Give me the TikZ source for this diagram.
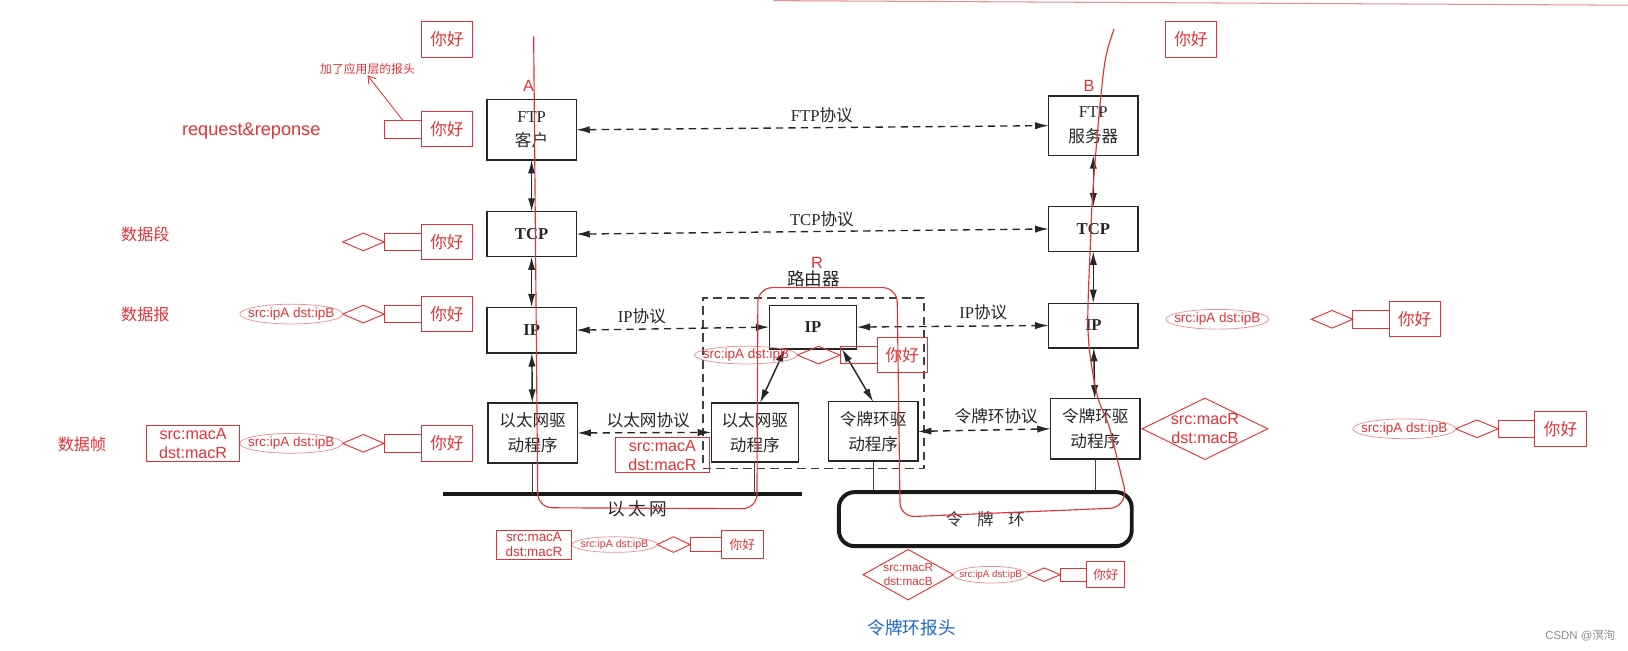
\documentclass[tikz,border=0pt]{standalone}
\usepackage{fontspec}
\setmainfont{Liberation Serif}
\setsansfont{Liberation Sans}
\newfontfamily\cjk{Noto Sans CJK SC}
\usetikzlibrary{arrows.meta,positioning,shapes.geometric}
\definecolor{annot}{RGB}{226,50,54}
\definecolor{hdrblue}{RGB}{28,104,200}
\newcommand{\fsz}[2]{\fontsize{#1}{#2}\selectfont}

\begin{document}
\begin{tikzpicture}[
  x=1pt,y=-1pt,
  >={Latex[length=13pt,width=7pt]},
  layer/.style={draw=black!85,line width=1.3pt,minimum width=86pt,align=center,inner sep=2pt,outer sep=0pt,text=black!85,font=\cjk\fsz{16}{24}},
  proto/.style={inner sep=1pt,text=black!85,font=\cjk\fsz{16}{16}},
  stack/.style={<->,line width=1.4pt,black!85},
  peer/.style={<->,line width=1.3pt,black!85,dash pattern=on 7pt off 5pt},
  stub/.style={line width=1pt,black!75},
  hello/.style={draw=annot,line width=0.9pt,minimum width=49pt,minimum height=34pt,inner sep=0pt,outer sep=0pt,text=annot,font=\cjk\fsz{16}{16}},
  hdr/.style={draw=annot,line width=0.9pt,minimum width=36pt,minimum height=17pt,inner sep=0pt,outer sep=0pt},
  tcphdr/.style={diamond,draw=annot,line width=0.9pt,minimum width=40pt,minimum height=17pt,inner sep=0pt,outer sep=0pt},
  iphdr/.style={ellipse,draw=annot!55,line width=0.7pt,minimum width=99pt,minimum height=19pt,inner sep=0pt,outer sep=0pt,
    label={[text=annot,inner sep=0pt,font=\sffamily\fsz{#1}{#1}]center:{src:ipA dst:ipB}}},
  iphdr/.default=13,
  machdr/.style={draw=annot,line width=0.9pt,minimum width=90pt,minimum height=34pt,inner sep=0pt,outer sep=0pt,align=center,text=annot,font=\sffamily\fsz{15.5}{18}},
  macring/.style 2 args={diamond,draw=annot,line width=0.9pt,inner sep=0pt,outer sep=0pt,
    label={[text=annot,align=center,inner sep=0pt,font=\sffamily\fsz{#1}{#2}]center:{src:macR\\dst:macB}}},
  tag/.style={inner sep=1pt,text=annot,font=\cjk\fsz{15.5}{15.5}},
  letter/.style={inner sep=0pt,text=annot,font=\sffamily\fsz{15.7}{15.7}},
  trace/.style={annot,line width=1.1pt}
]
\useasboundingbox (0,0) rectangle (1568,627);

% host A
\node[layer,minimum height=58pt] (ftpA) at (512,125) {{\rmfamily FTP}\\客户};
\node[layer,minimum height=43pt] (tcpA) at (512,225.5) {\rmfamily\bfseries TCP};
\node[layer,minimum height=44pt] (ipA) at (512,318) {\rmfamily\bfseries IP};
\node[layer,minimum height=58pt] (ethA) at (513,417) {以太网驱\\动程序};

% router
\node[draw=black!75,line width=1.2pt,dash pattern=on 8pt off 5pt,minimum width=213pt,minimum height=164pt] (router) at (783.5,369) {};
\node[proto,font=\cjk\fsz{17}{17},above=9pt of router] (rlabel) {路由器};
\node[layer,minimum width=84pt,minimum height=42pt] (ipR) at (783,315) {\rmfamily\bfseries IP};
\node[layer,minimum width=84pt,minimum height=57pt] (ethR) at (727,416.5) {以太网驱\\动程序};
\node[layer,minimum height=57pt] (tokR) at (841,415.5) {令牌环驱\\动程序};

% host B
\node[layer,minimum height=57pt] (ftpB) at (1053,121) {{\rmfamily FTP}\\服务器};
\node[layer,minimum height=43pt] (tcpB) at (1053,220.5) {\rmfamily\bfseries TCP};
\node[layer,minimum height=43pt] (ipB) at (1053,313.5) {\rmfamily\bfseries IP};
\node[layer,minimum height=58pt] (tokB) at (1055,413) {令牌环驱\\动程序};

% ethernet and token ring
\coordinate (busL) at (427,476);
\coordinate (busR) at (772,476);
\draw[line width=3.8pt,black!90] (busL) -- (busR);
\node[proto,font=\cjk\fsz{17}{17}] (ethnet) at (614,490) {以\hspace{3pt}太\hspace{3pt}网};
\node[draw=black!90,line width=3.8pt,rounded corners=15pt,minimum width=282pt,minimum height=52pt,text=black!80,font=\cjk\fsz{16}{16}] (ring) at (949,500) {令\hspace{14pt}牌\hspace{14pt}环};
\draw[stub] (ethA.south) -- (ethA.south |- busL);
\draw[stub] (ethR.south) -- (ethR.south |- busL);
\draw[stub] (tokR.south) -- (tokR.south |- ring.north);
\draw[stub] (tokB.south) -- (tokB.south |- ring.north);

% layers inside each host
\draw[stack] (ftpA) -- (tcpA);
\draw[stack] (tcpA) -- (ipA);
\draw[stack] (ipA) -- (ethA);
\draw[stack] (ftpB) -- (tcpB);
\draw[stack] (tcpB) -- (ipB);
\draw[stack] (ipB) -- (tokB);
\draw[stack] (ipR.218) -- (ethR.80);
\draw[stack] (ipR.-37) -- (tokR.north);

% peer protocols
\draw[peer] (ftpA.east) -- node[proto,pos=0.52,above=3pt] {{\rmfamily FTP}协议} (ftpB.west);
\draw[peer] (tcpA.east) -- node[proto,pos=0.52,above=3pt] {{\rmfamily TCP}协议} (tcpB.west);
\draw[peer] (ipA.east) -- node[proto,pos=0.34,above=3pt] {{\rmfamily IP}协议} (ipR.west);
\draw[peer] (ipR.east) -- node[proto,pos=0.66,above=4pt] {{\rmfamily IP}协议} (ipB.west);
\draw[peer] (ethA.east) -- node[proto,pos=0.53,above=3pt] {以太网协议} (ethR.west);
\draw[peer] (tokR.east) -- node[proto,pos=0.59,above=4pt] {令牌环协议} (tokB.west);

% red notes: encapsulation at A
\node[letter] (markA) at (509,82.5) {A};
\node[letter] (markB) at (1049,82.5) {B};
\node[letter] (markR) at (787,253) {R};
\node[hello] (hello0) at (430.5,38) {你好};

\node[hello] (hello1) at (430.5,124.5) {你好};
\node[hdr,left=0pt of hello1] (app1) {};
\node[tag,font=\cjk\fsz{11.4}{11.4}] (apphdr) at (354,66) {加了应用层的报头};
\draw[annot,line width=0.8pt,-{Straight Barb[length=7pt,width=9pt]}] (app1.north) -- (apphdr.south);
\node[tag,font=\sffamily\fsz{17.5}{17.5}] (reqlabel) at (242,126) {request\&reponse};

\node[hello] (hello2) at (430.5,233) {你好};
\node[hdr,left=0pt of hello2] (app2) {};
\node[tcphdr,left=0pt of app2] (tcp2) {};
\node[tag] (seglabel) at (140,226) {数据段};

\node[hello] (hello3) at (430.5,302.5) {你好};
\node[hdr,left=0pt of hello3] (app3) {};
\node[tcphdr,left=0pt of app3] (tcp3) {};
\node[iphdr,left=0pt of tcp3] (ip3) {};
\node[tag] (dglabel) at (140,303) {数据报};

\node[hello] (hello4) at (430.5,427) {你好};
\node[hdr,left=0pt of hello4] (app4) {};
\node[tcphdr,left=0pt of app4] (tcp4) {};
\node[iphdr,left=0pt of tcp4] (ip4) {};
\node[machdr,left=0pt of ip4] (mac4) {src:macA\\dst:macR};
\node[tag] (framelabel) at (79,428) {数据帧};

% red notes: router
\node[hello,minimum width=48pt] (hello5) at (869,342) {你好};
\node[hdr,left=0pt of hello5] (app5) {};
\node[tcphdr,minimum width=41pt,left=0pt of app5] (tcp5) {};
\node[iphdr,minimum height=17pt,left=0pt of tcp5] (ip5) {};
\node[machdr] (mac5) at (638,438.5) {src:macA\\dst:macR};

% red notes: B
\node[hello] (hello10) at (1147,38) {你好};
\node[hello] (hello6) at (1362.5,307.5) {你好};
\node[hdr,minimum width=35pt,left=0pt of hello6] (app6) {};
\node[tcphdr,left=0pt of app6] (tcp6) {};
\node[iphdr,left=41pt of tcp6] (ip6) {};

\node[hello,minimum width=50pt] (hello7) at (1503,413) {你好};
\node[hdr,minimum width=35pt,left=0pt of hello7] (app7) {};
\node[tcphdr,minimum width=41pt,left=0pt of app7] (tcp7) {};
\node[iphdr,left=0pt of tcp7] (ip7) {};
\node[macring={15.5}{18},minimum width=121pt,minimum height=59pt,left=82pt of ip7] (mac7) {};

% frames on the wires
\node[hello,minimum width=40.5pt,minimum height=27pt,font=\cjk\fsz{12.2}{12.2}] (hello8) at (715,524.5) {你好};
\node[hdr,minimum width=30pt,minimum height=14pt,left=0pt of hello8] (app8) {};
\node[tcphdr,minimum width=32pt,minimum height=15pt,left=0pt of app8] (tcp8) {};
\node[iphdr=10.2,minimum width=82pt,minimum height=15pt,left=0pt of tcp8] (ip8) {};
\node[machdr,minimum width=73pt,minimum height=28pt,font=\sffamily\fsz{12.9}{14.5},left=0pt of ip8] (mac8) {src:macA\\dst:macR};

\node[hello,minimum width=36.5pt,minimum height=25pt,font=\cjk\fsz{12}{12}] (hello9) at (1065,553.5) {你好};
\node[hdr,minimum width=25.5pt,minimum height=12.6pt,left=0pt of hello9] (app9) {};
\node[tcphdr,minimum width=31pt,minimum height=13pt,left=0pt of app9] (tcp9) {};
\node[iphdr=9.4,minimum width=72pt,minimum height=16pt,left=0pt of tcp9] (ip9) {};
\node[macring={11.3}{12.9},minimum width=87pt,minimum height=48.5pt,left=0pt of ip9] (mac9) {};
\node[font=\cjk\fsz{17}{17},text=hdrblue] (ringhdr) at (878,605) {令牌环报头};

% path of the data
\draw[trace,rounded corners=14pt] (514,35) -- (518,489) -- (729,490) -- (730,277) -- (864,277) -- (867,498) -- (1083,489) -- (1083,470);
\draw[trace] plot[smooth,tension=0.6] coordinates {(1083,470) (1077,446) (1068,410) (1058,385) (1051,350) (1048,320) (1048,290) (1050,240) (1052,193) (1056,140) (1060,96) (1065,55) (1073,28)};
\draw[annot!55,line width=1pt] (745,0.6) -- (1568,5);

\node[font=\sffamily\fsz{11}{11},text=black!45] (wm) at (1522,612) {CSDN @{\cjk 溟洵}};
\end{tikzpicture}
\end{document}
